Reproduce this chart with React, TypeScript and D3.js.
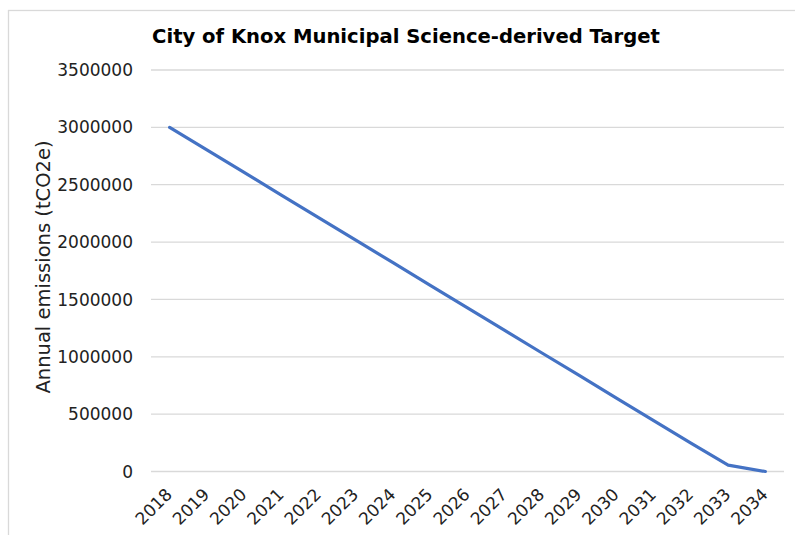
import React, { useEffect, useRef } from "react";
import * as d3 from "d3";

const years: string[] = [
  "2018", "2019", "2020", "2021", "2022", "2023", "2024", "2025", "2026",
  "2027", "2028", "2029", "2030", "2031", "2032", "2033", "2034",
];
const emissions: number[] = [
  3000000, 2803000, 2607000, 2410000, 2213000, 2017000, 1820000, 1623000,
  1427000, 1230000, 1033000, 837000, 640000, 443000, 247000, 55000, 0,
];
const yTicks: number[] = [0, 500000, 1000000, 1500000, 2000000, 2500000, 3000000, 3500000];
const titleText = "City of Knox Municipal Science-derived Target";
const yLabel = "Annual emissions (tCO2e)";

const W = 795;
const H = 535;
const FONT = "'DejaVu Sans', Verdana, sans-serif";

export default function App() {
  const ref = useRef<SVGSVGElement | null>(null);

  useEffect(() => {
    const svg = d3.select(ref.current);
    svg.selectAll("*").remove();

    const left = 151, right = 784, top = 70, bottom = 471.5;

    const x = d3.scaleBand<string>().domain(years).range([left, right]).padding(0);
    const y = d3.scaleLinear().domain([0, 3500000]).range([bottom, top]);

    // chart border
    svg.append("rect")
      .attr("x", 8.5).attr("y", 10.5)
      .attr("width", 800).attr("height", 600)
      .attr("fill", "#ffffff")
      .attr("stroke", "#d9d9d9")
      .attr("stroke-width", 1.3);

    // gridlines
    svg.append("g")
      .selectAll("line")
      .data(yTicks)
      .join("line")
      .attr("x1", left).attr("x2", right)
      .attr("y1", (d) => y(d)).attr("y2", (d) => y(d))
      .attr("stroke", "#d9d9d9")
      .attr("stroke-width", 1.3);

    // y tick labels
    svg.append("g")
      .selectAll("text")
      .data(yTicks)
      .join("text")
      .attr("x", 133)
      .attr("y", (d) => y(d))
      .attr("dy", "0.36em")
      .attr("text-anchor", "end")
      .attr("font-family", FONT)
      .attr("font-size", 17)
      .attr("fill", "#222")
      .text((d) => String(d));

    // x tick labels
    svg.append("g")
      .selectAll("text")
      .data(years)
      .join("text")
      .attr("transform", (d) => {
        const cx = (x(d) as number) + x.bandwidth() / 2 + 3.5;
        return `translate(${cx},${bottom + 24}) rotate(-45)`;
      })
      .attr("text-anchor", "end")
      .attr("font-family", FONT)
      .attr("font-size", 17)
      .attr("fill", "#222")
      .text((d) => d);

    // line
    const line = d3.line<number>()
      .x((_, i) => (x(years[i]) as number) + x.bandwidth() / 2)
      .y((d) => y(d));
    svg.append("path")
      .datum(emissions)
      .attr("d", line)
      .attr("fill", "none")
      .attr("stroke", "#4472C4")
      .attr("stroke-width", 3.2)
      .attr("stroke-linejoin", "round")
      .attr("stroke-linecap", "round");

    // title
    svg.append("text")
      .attr("x", 406)
      .attr("y", 43)
      .attr("text-anchor", "middle")
      .attr("font-family", FONT)
      .attr("font-weight", "bold")
      .attr("font-size", 19.6)
      .attr("fill", "#000")
      .text(titleText);

    // y axis label
    svg.append("text")
      .attr("transform", `translate(50,${(142 + 392) / 2}) rotate(-90)`)
      .attr("text-anchor", "middle")
      .attr("font-family", FONT)
      .attr("font-size", 19.5)
      .attr("fill", "#222")
      .text(yLabel);
  }, []);

  return (
    <svg
      ref={ref}
      width={W}
      height={H}
      style={{ position: "absolute", left: 0, top: 0, background: "#fff" }}
    />
  );
}
